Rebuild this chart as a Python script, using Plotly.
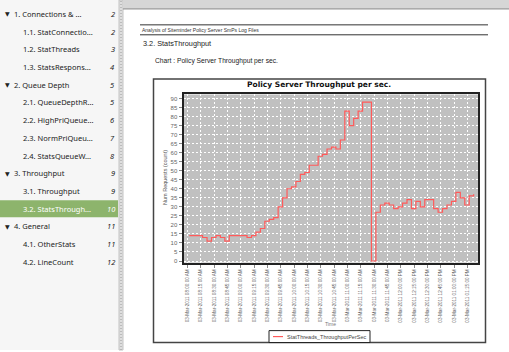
import pandas as pd
import plotly.graph_objects as go

# ---------------- data ----------------
start_time = "2011-03-03 08:02:00"
throughput = [14, 14, 14, 13, 11, 13, 14, 13, 11, 14, 14, 14, 14, 13, 14, 16, 18, 22, 23, 24,
              30, 35, 40, 41, 44, 48, 49, 53, 53, 58, 59, 62, 63, 62, 67, 83, 75, 79, 83, 88,
              88, 0, 27, 31, 32, 31, 29, 30, 32, 34, 29, 33, 30, 34, 34, 29, 27, 29, 31, 33,
              38, 35, 31, 36, 37]
times = pd.date_range(start_time, periods=len(throughput), freq="5min")

series_name = "StatThreads_ThroughputPerSec"
chart_title = "Policy Server Throughput per sec."
y_title = "Num Requests (count)"
x_title = "Time"

toc_labels = ["1. Connections & ...", "1.1. StatConnectio...", "1.2. StatThreads", "1.3. StatsRespons...",
              "2. Queue Depth", "2.1. QueueDepthR...", "2.2. HighPriQueue...", "2.3. NormPriQueu...",
              "2.4. StatsQueueW...", "3. Throughput", "3.1. Throughput", "3.2. StatsThrough...",
              "4. General", "4.1. OtherStats", "4.2. LineCount"]
toc_pages = ["2", "2", "3", "4", "5", "5", "6", "7", "8", "9", "9", "10", "11", "11", "12"]
toc_levels = [0, 1, 1, 1, 0, 1, 1, 1, 1, 0, 1, 1, 0, 1, 1]
toc_selected = 11

W, H = 509, 352


def px(x):
    return x / W


def py(y):
    return 1 - y / H


def note(x, y, text, size, color, family="Liberation Sans", xanchor="left", **kw):
    return dict(x=px(x), y=py(y), xref="paper", yref="paper", text=text, showarrow=False,
                xanchor=xanchor, yanchor="middle", font=dict(family=family, size=size, color=color), **kw)


fig = go.Figure()
fig.add_trace(go.Scatter(x=times, y=throughput, mode="lines", line=dict(shape="hv", color="#ff5a5a", width=1.2),
                         name=series_name, showlegend=False))

shapes = []
ann = []

# sidebar
shapes.append(dict(type="rect", xref="paper", yref="paper", x0=0, x1=px(119), y0=0, y1=1,
                   fillcolor="#f6f6f6", line_width=0, layer="below"))
shapes.append(dict(type="rect", xref="paper", yref="paper", x0=px(119), x1=px(123), y0=0, y1=1,
                   fillcolor="#dedede", line=dict(color="#c4c4c4", width=1), layer="below"))
shapes.append(dict(type="line", xref="paper", yref="paper", x0=px(121), x1=px(121), y0=0, y1=1,
                   line=dict(color="#9a9a9a", width=1, dash="1px,2px")))
shapes.append(dict(type="rect", xref="paper", yref="paper", x0=0, x1=px(118), y0=py(218.5), y1=py(201.5),
                   fillcolor="#8db46c", line_width=0, layer="below"))
# top strip of page area
shapes.append(dict(type="rect", xref="paper", yref="paper", x0=px(123), x1=1, y0=py(9), y1=1,
                   fillcolor="#d6d6d6", line_width=0, layer="below"))
shapes.append(dict(type="line", xref="paper", yref="paper", x0=px(123), x1=1, y0=py(9), y1=py(9),
                   line=dict(color="#8a8a8a", width=1)))

for i, (lab, pg, lev) in enumerate(zip(toc_labels, toc_pages, toc_levels)):
    yc = 14 + 17.8 * i
    col = "#ffffff" if i == toc_selected else "#222222"
    if lev == 0:
        ann.append(note(3, yc, "▼", 6, col, family="DejaVu Sans"))
    ann.append(note(12 if lev == 0 else 21, yc, lab, 7.5, col, family="Noto Sans"))
    ann.append(note(117, yc, "<i>" + pg + "</i>", 7.5, col, family="Noto Sans", xanchor="right"))

# page header
for yl in (25, 35):
    shapes.append(dict(type="line", xref="paper", yref="paper", x0=px(140), x1=px(488), y0=py(yl), y1=py(yl),
                       line=dict(color="#333333", width=1)))
ann.append(note(140, 30.5, "Analysis of Siteminder Policy Server SmPs Log Files", 5, "#333"))
ann.append(note(141, 44, "3.2. StatsThroughput", 7.3, "#222"))
ann.append(note(153, 61.5, "Chart : Policy Server Throughput per sec.", 6.7, "#222"))

# chart box
shapes.append(dict(type="rect", xref="paper", yref="paper", x0=px(153.5), x1=px(485.5), y0=py(344.5), y1=py(79.5),
                   line=dict(color="#444444", width=1.5), fillcolor="rgba(0,0,0,0)"))
ann.append(note(319, 85, "<b>" + chart_title + "</b>", 7.5, "#111", family="DejaVu Sans", xanchor="center"))
ann.append(note(165, 179, y_title, 5.5, "#555", xanchor="center", textangle=-90))
ann.append(note(330, 325.5, x_title, 5, "#777", xanchor="center"))

# legend box
shapes.append(dict(type="rect", xref="paper", yref="paper", x0=px(269), x1=px(370), y0=py(344.5), y1=py(332.5),
                   line=dict(color="#222222", width=1), fillcolor="#ffffff"))
shapes.append(dict(type="line", xref="paper", yref="paper", x0=px(273), x1=px(283), y0=py(338.5), y1=py(338.5),
                   line=dict(color="#ff5a5a", width=1.2)))
ann.append(note(285, 338.5, series_name, 5.5, "#444"))

fig.update_layout(
    width=W, height=H, margin=dict(l=0, r=0, t=0, b=0),
    paper_bgcolor="#ffffff", plot_bgcolor="#c0c0c0",
    shapes=shapes, annotations=ann, showlegend=False,
    xaxis=dict(domain=[px(183.5), px(478)], type="date",
               range=["2011-03-03 07:55:30", "2011-03-03 13:26:54"],
               tick0="2011-03-03 08:00:00", dtick=15 * 60 * 1000,
               tickformat="%d-%b-%Y %I:%M:%S %p", tickangle=-90,
               tickfont=dict(family="Liberation Sans", size=4.6, color="#666"),
               ticks="outside", ticklen=3, tickcolor="#888",
               showgrid=True, gridcolor="#ffffff", griddash="2px,2px", gridwidth=1,
               showline=True, linecolor="#222", linewidth=2, mirror=True, zeroline=False),
    yaxis=dict(domain=[py(264), py(95)], range=[-0.83, 92.2], tick0=0, dtick=5,
               tickfont=dict(family="Liberation Sans", size=6, color="#666"),
               ticks="outside", ticklen=3, tickcolor="#888",
               showgrid=True, gridcolor="#ffffff", griddash="2px,2px", gridwidth=1,
               showline=True, linecolor="#222", linewidth=2, mirror=True, zeroline=False),
)

fig.write_html("out.html")
